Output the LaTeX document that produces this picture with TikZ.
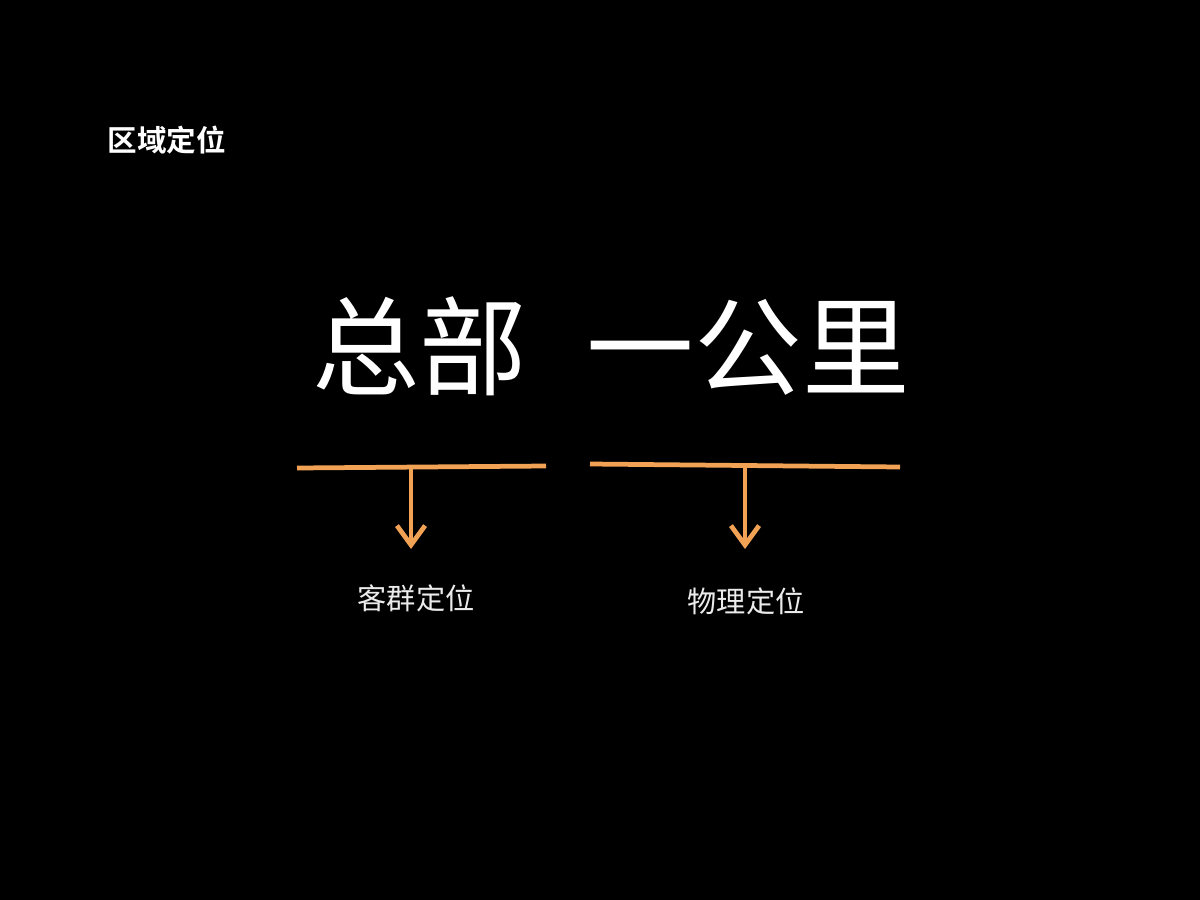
\documentclass[tikz,border=0pt]{standalone}
\usepackage{fontspec}
\newfontfamily\cjk{Noto Sans CJK SC}
\newfontfamily\cjkb{Noto Sans CJK SC Bold}
\usetikzlibrary{arrows.meta}
\definecolor{orangeline}{HTML}{F2A255}
\tikzset{
  bar/.style={draw=orangeline, line width=1.35pt},
  arr/.style={draw=orangeline, line width=1.35pt, -{Straight Barb[length=5.5pt,width=8pt,line width=1.35pt]}},
  sub/.style={text=white!92!black, font=\cjk\fontsize{8.3pt}{10pt}\selectfont, inner sep=0pt},
}
\begin{document}
\begin{tikzpicture}[x=0.01cm,y=-0.01cm]
\fill[black] (0,0) rectangle (1200,900);
\useasboundingbox (0,0) rectangle (1200,900);
\node[text=white, font=\cjkb\fontsize{8.4pt}{10pt}\selectfont, inner sep=0pt, anchor=west] (title) at (107,140) {区域定位};
\node[text=white, font=\cjk\fontsize{30.6pt}{34pt}\selectfont, inner sep=0pt] (main) at (611,346) {总部\hspace{0.55em}一公里};
\coordinate (l1) at (297,468);
\coordinate (l2) at (546,466);
\coordinate (r1) at (590,464);
\coordinate (r2) at (900,467);
\coordinate (ls) at (411,467);
\coordinate (rs) at (745,466);
\node[sub] (kq) at (416,598) {客群定位};
\node[sub] (wl) at (746,601) {物理定位};
\coordinate (la) at (411,549);
\coordinate (ra) at (745,549);
\draw[bar] (l1) -- (l2);
\draw[bar] (r1) -- (r2);
\draw[arr] (ls) -- (la);
\draw[arr] (rs) -- (ra);
\end{tikzpicture}
\end{document}
